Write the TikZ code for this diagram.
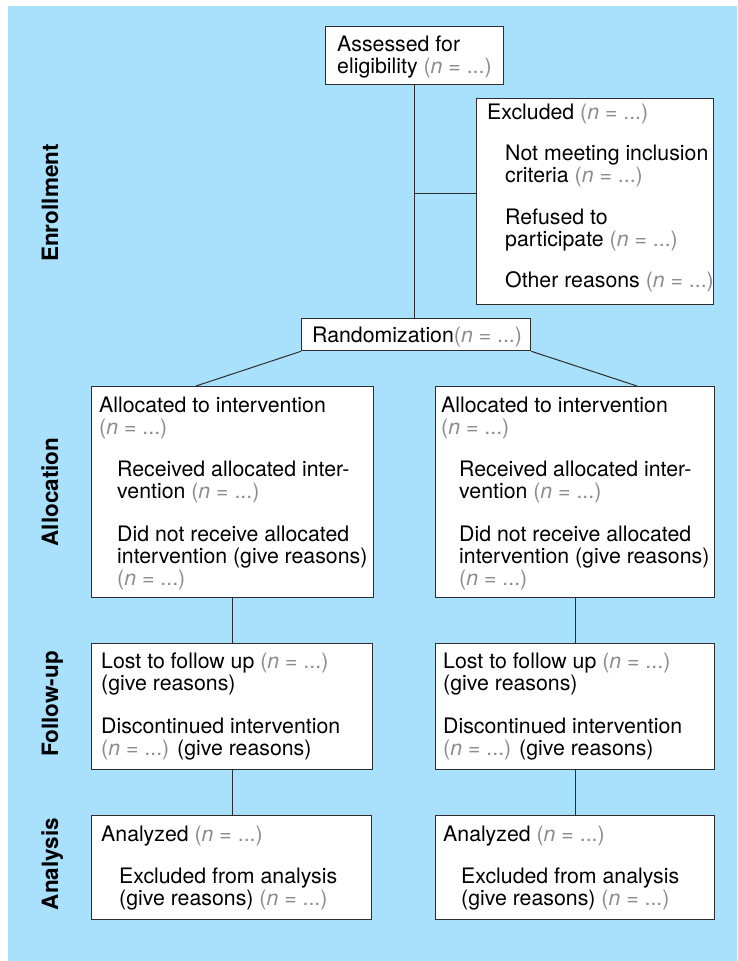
\documentclass[tikz,border=0pt]{standalone}
\usepackage{fontspec}
\setmainfont{TeX Gyre Heros}
\definecolor{panelblue}{RGB}{169,224,251}
\definecolor{ngray}{RGB}{140,140,140}
\definecolor{framegray}{RGB}{45,45,45}
% placeholder count, printed in grey
\newcommand{\nval}{{\color{ngray}(\textit{n}~=~...)}}
\newcommand{\ind}{\hspace*{18pt}}

\begin{document}
\begin{tikzpicture}[x=1pt, y=-1pt,
  box/.style={draw=framegray, line width=1.3pt, fill=white, inner sep=0pt, anchor=north west},
  link/.style={draw=framegray, line width=1pt},
  txt/.style={anchor=base west, inner sep=0pt, font=\fontsize{21.3}{22}\selectfont},
  stage/.style={rotate=90, anchor=base, inner sep=0pt, font=\fontsize{22.5}{24}\selectfont\bfseries}]

\useasboundingbox (0,0) rectangle (737,961);
\fill[panelblue] (8,6) rectangle (737,961);

% boxes
\node[box, minimum width=178pt, minimum height=58pt] (assess) at (325,26) {};
\node[box, minimum width=237pt, minimum height=206pt] (excl) at (476,98) {};
\node[box, minimum width=229pt, minimum height=32pt] (rand) at (301,318) {};
\node[box, minimum width=282pt, minimum height=211pt] (allocL) at (91,386) {};
\node[box, minimum width=279pt, minimum height=211pt] (allocR) at (435,386) {};
\node[box, minimum width=281pt, minimum height=126pt] (followL) at (91,643) {};
\node[box, minimum width=279pt, minimum height=126pt] (followR) at (435,643) {};
\node[box, minimum width=280pt, minimum height=104pt] (analysisL) at (91,815) {};
\node[box, minimum width=279pt, minimum height=104pt] (analysisR) at (435,815) {};

% box texts
\node[txt] (assessT) at (337,51) {\parbox[t]{170pt}{\raggedright
  Assessed for\\ eligibility \nval}};
\node[txt] (exclT) at (487,119) {\parbox[t]{230pt}{\raggedright
  Excluded \nval\\[19pt]
  \ind Not meeting inclusion\\
  \ind criteria \nval\\[20pt]
  \ind Refused to\\
  \ind participate \nval\\[19pt]
  \ind Other reasons \nval}};
\node[txt] (randT) at (312,342) {Randomization\nval};

\node[txt] (allocLT) at (99,412) {\parbox[t]{280pt}{\raggedright
  Allocated to intervention\\
  \nval\\[20pt]
  \ind Received allocated inter-\\
  \ind vention \nval\\[21pt]
  \ind Did not receive allocated\\
  \ind intervention (give reasons)\\
  \ind \nval}};
\node[txt] (allocRT) at (441,412) {\parbox[t]{280pt}{\raggedright
  Allocated to intervention\\
  \nval\\[20pt]
  \ind Received allocated inter-\\
  \ind vention \nval\\[21pt]
  \ind Did not receive allocated\\
  \ind intervention (give reasons)\\
  \ind \nval}};

\node[txt] (followLT) at (101,668) {\parbox[t]{280pt}{\raggedright
  Lost to follow up \nval\\
  (give reasons)\\[21pt]
  Discontinued intervention\\
  \nval{} (give reasons)}};
\node[txt] (followRT) at (443,668) {\parbox[t]{280pt}{\raggedright
  Lost to follow up \nval\\
  (give reasons)\\[21pt]
  Discontinued intervention\\
  \nval{} (give reasons)}};

\node[txt] (analysisLT) at (101,841) {\parbox[t]{280pt}{\raggedright
  Analyzed \nval\\[20pt]
  \ind Excluded from analysis\\
  \ind (give reasons) \nval}};
\node[txt] (analysisRT) at (443,841) {\parbox[t]{280pt}{\raggedright
  Analyzed \nval\\[20pt]
  \ind Excluded from analysis\\
  \ind (give reasons) \nval}};

% stage labels
\node[stage] (sEnroll) at (58,203) {Enrollment};
\node[stage] (sAlloc) at (58,492) {Allocation};
\node[stage] (sFollow) at (58,704) {Follow-up};
\node[stage] (sAnalysis) at (58,864) {Analysis};

% connectors
\coordinate (branch) at (414,193);
\coordinate (aLtop) at (196,386);
\coordinate (aRtop) at (637,386);
\draw[link] (assess.south) -- (assess.south |- rand.north);
\draw[link] (branch) -- (branch -| excl.west);
\draw[link] (rand.south west) -- (aLtop);
\draw[link] (rand.south east) -- (aRtop);
\draw[link] (allocL.south) -- (allocL.south |- followL.north);
\draw[link] (allocR.south) -- (allocR.south |- followR.north);
\draw[link] (followL.south) -- (followL.south |- analysisL.north);
\draw[link] (followR.south) -- (followR.south |- analysisR.north);
\end{tikzpicture}
\end{document}
